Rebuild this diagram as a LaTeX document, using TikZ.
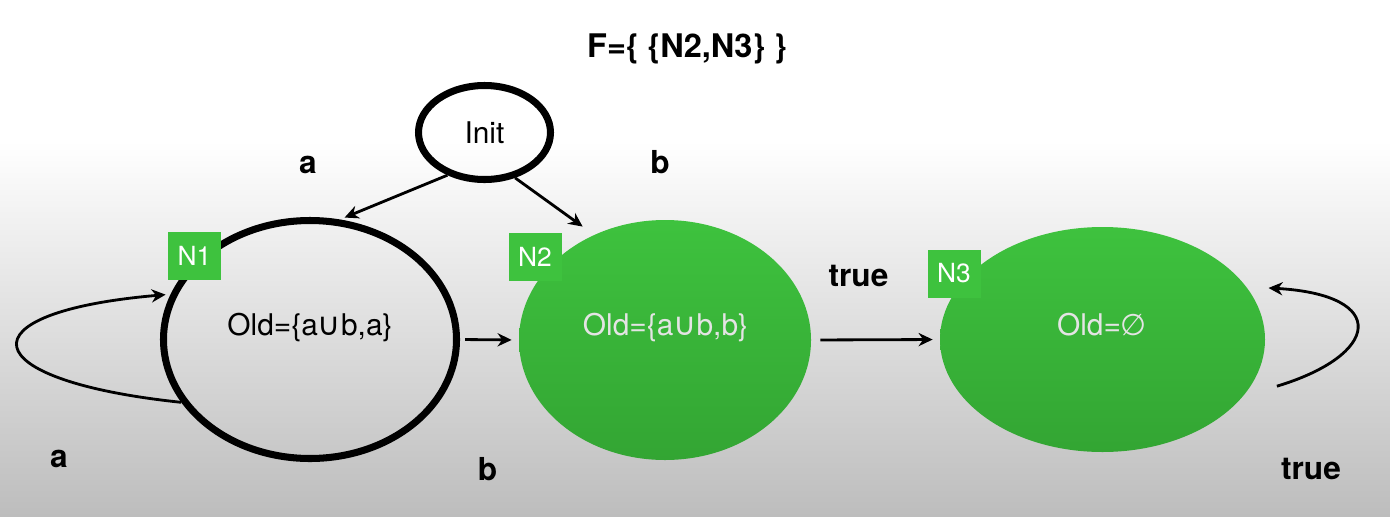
\documentclass[tikz,border=0pt]{standalone}
\usepackage{fontspec}
\setmainfont{TeX Gyre Heros}
\newfontfamily\dejavu{DejaVu Sans}
\usetikzlibrary{shapes.geometric, arrows.meta}
\definecolor{nodegreen}{HTML}{3EC23E}
\definecolor{nodegreendark}{HTML}{33A533}
\definecolor{bggray}{HTML}{BDBDBD}
\definecolor{paletext}{HTML}{E4E4E4}
\tikzset{
	every node/.style={inner sep=0pt},
	whitestate/.style={ellipse, draw=black, line width=4pt},
	greenstate/.style={ellipse, top color=nodegreen, bottom color=nodegreendark, draw=none},
	tagbox/.style={fill=nodegreen, text=white, minimum width=1.06cm, minimum height=0.96cm, font=\fontsize{15}{18}\selectfont},
	oldtext/.style={anchor=base, font=\fontsize{17}{20}\selectfont},
	lbl/.style={anchor=base, font=\fontsize{18}{22}\selectfont\bfseries},
	trans/.style={-{Stealth[length=8pt,width=7.5pt]}, line width=1.6pt}
}
\newcommand{\cupsym}{{\dejavu\fontsize{18}{18}\selectfont ∪}}
\newcommand{\emptysym}{{\dejavu ∅}}

\begin{document}
\begin{tikzpicture}
\useasboundingbox (0,0) rectangle (27.8,10.32);
\fill[white] (0,7.5) rectangle (27.8,10.32);
\shade[top color=white, bottom color=bggray] (0,0) rectangle (27.8,7.5);

\node[lbl, font=\fontsize{18.5}{22}\selectfont\bfseries] (title) at (13.74,9.18) {F=\{ \{N2,N3\} \}};

% states
\node[whitestate, minimum width=2.64cm, minimum height=1.88cm, font=\fontsize{17}{20}\selectfont] (init) at (9.69,7.67) {Init};
\node[whitestate, minimum width=5.86cm, minimum height=4.76cm] (n1) at (6.20,3.53) {};
\node[greenstate, minimum width=5.84cm, minimum height=4.80cm] (n2) at (13.30,3.52) {};
\node[greenstate, minimum width=6.50cm, minimum height=4.50cm] (n3) at (22.05,3.53) {};

\node[oldtext] (n1old) at (6.20,3.62) {Old=\{a\cupsym b,a\}};
\node[oldtext, text=paletext] (n2old) at (13.31,3.62) {Old=\{a\cupsym b,b\}};
\node[oldtext, text=paletext] (n3old) at (22.04,3.62) {Old=\emptysym};

\node[tagbox] (n1tag) at (3.89,5.20) {N1};
\node[tagbox] (n2tag) at (10.70,5.19) {N2};
\node[tagbox] (n3tag) at (19.08,4.85) {N3};

% labels
\node[lbl] (la1) at (6.16,6.86) {a};
\node[lbl] (lb1) at (13.20,6.86) {b};
\node[lbl] (ltrue1) at (17.17,4.60) {true};
\node[lbl] (la2) at (1.18,0.98) {a};
\node[lbl] (lb2) at (9.75,0.72) {b};
\node[lbl] (ltrue2) at (26.22,0.74) {true};

% transitions
\draw[trans, shorten >=0.1cm] (init.229) -- (n1.76);
\draw[trans, shorten >=0.28cm] (init.-56) -- (n2.124);
\draw[trans, shorten <=0.1cm, shorten >=0.14cm] (n1.east) -- (n2.west);
\draw[trans, shorten <=0.18cm, shorten >=0.14cm] (n2.east) -- (n3.west);
\draw[trans, shorten >=0.1cm] (n1.206) .. controls +(-4.2,0.44) and +(-4.2,-0.36) .. (n1.162);
\draw[trans] ([xshift=0.45cm,yshift=-0.12cm]n3.-15) .. controls +(2.06,0.62) and +(2.44,-0.14) .. ([xshift=0.34cm,yshift=0.12cm]n3.17);
\end{tikzpicture}
\end{document}
